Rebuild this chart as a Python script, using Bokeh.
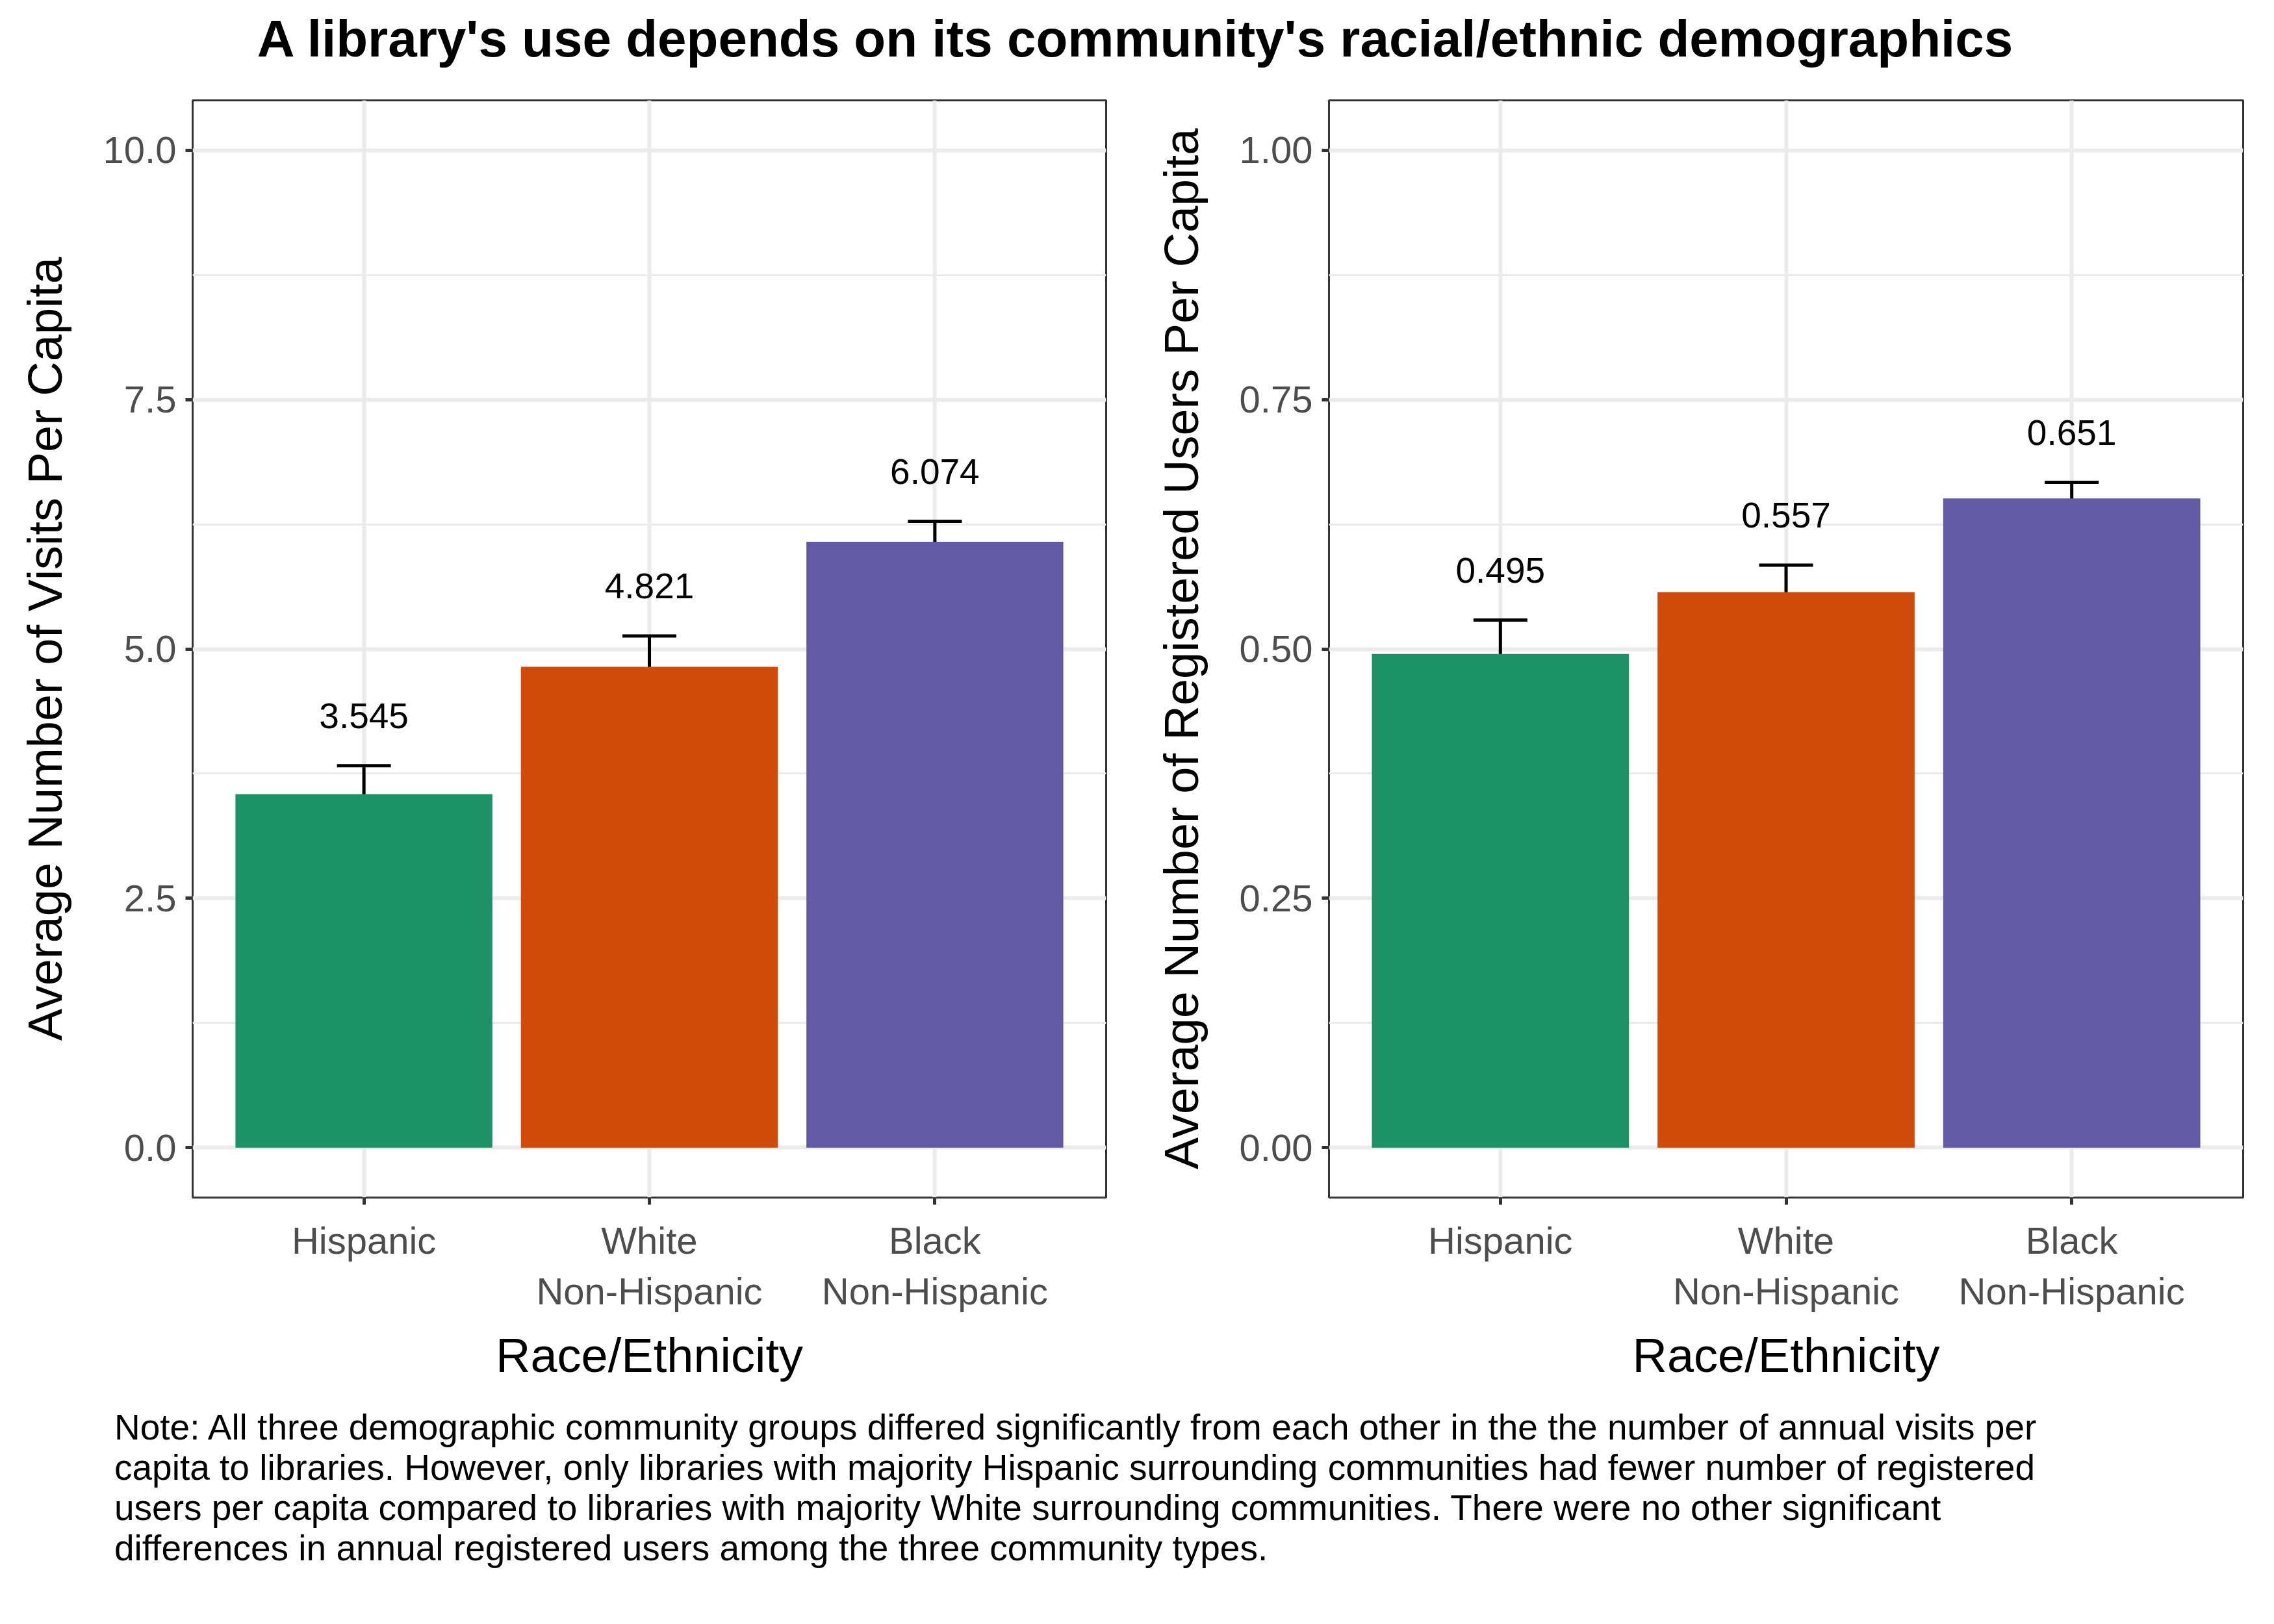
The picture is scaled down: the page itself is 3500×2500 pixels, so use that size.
from bokeh.plotting import figure
from bokeh.models import (ColumnDataSource, Range1d, FixedTicker, Whisker, TeeHead,
                          Div, NumeralTickFormatter)
from bokeh.layouts import column, row
from bokeh.core.properties import value
from bokeh.embed import file_html
from bokeh.resources import INLINE

groups = ["Hispanic", "White\nNon-Hispanic", "Black\nNon-Hispanic"]
colors = ["#1D9266", "#D14B0A", "#625AA5"]

visits = [3.545, 4.821, 6.074]
visits_lower = [3.25, 4.51, 5.87]
visits_upper = [3.83, 5.13, 6.28]

users = [0.495, 0.557, 0.651]
users_lower = [0.461, 0.531, 0.635]
users_upper = [0.529, 0.584, 0.667]

FONT = "Liberation Sans"
TITLE = "A library's use depends on its community's racial/ethnic demographics"
NOTE = ("Note: All three demographic community groups differed significantly from each other in the the number of annual visits "
        "per capita to libraries. However, only libraries with majority Hispanic surrounding communities had fewer number of "
        "registered users per capita compared to libraries with majority White surrounding communities. There were no other "
        "significant differences in annual registered users among the three community types.")


def panel(vals, lo, hi, ymax, ticks, fmt, ylabel, border_left, border_right, frame_w):
    x = list(range(1, len(groups) + 1))
    pad = ymax * 0.05
    p = figure(frame_width=frame_w, frame_height=1689, output_backend="svg",
               toolbar_location=None, x_range=Range1d(0.4, 3.6),
               y_range=Range1d(-pad, ymax + pad),
               min_border_left=border_left, min_border_right=border_right,
               min_border_top=10, min_border_bottom=280)
    p.outline_line_color = "#333333"
    p.outline_line_width = 3
    p.background_fill_color = "white"

    src = ColumnDataSource(dict(x=x, top=vals, lo=lo, hi=hi, color=colors,
                                label=[f"{v:.3f}" for v in vals],
                                ly=[h + pad for h in hi]))
    p.vbar(x="x", top="top", width=0.9, bottom=0, fill_color="color",
           line_color=None, source=src)
    p.add_layout(Whisker(source=src, base="x", lower="lo", upper="hi",
                         line_width=5, line_color="black",
                         upper_head=TeeHead(size=83, line_width=5, line_color="black"),
                         lower_head=TeeHead(size=83, line_width=5, line_color="black")))
    p.text(x="x", y="ly", text="label", source=src, text_align="center",
           text_baseline="middle", text_font=value(FONT), text_font_size="55px",
           text_color="black")

    p.xaxis.ticker = FixedTicker(ticks=x)
    p.xaxis.major_label_overrides = {i: g for i, g in zip(x, groups)}
    p.yaxis.ticker = FixedTicker(ticks=ticks,
                                 minor_ticks=[(a + b) / 2 for a, b in zip(ticks[:-1], ticks[1:])])
    p.yaxis.formatter = NumeralTickFormatter(format=fmt)
    p.xaxis.axis_label = "Race/Ethnicity"
    p.yaxis.axis_label = ylabel
    for ax in (p.xaxis, p.yaxis):
        ax.axis_line_color = None
        ax.major_tick_line_color = "#333333"
        ax.major_tick_line_width = 5
        ax.major_tick_out = 11
        ax.major_tick_in = 0
        ax.minor_tick_line_color = None
        ax.major_label_text_font = FONT
        ax.major_label_text_font_size = "58px"
        ax.major_label_text_color = "#4D4D4D"
        ax.axis_label_text_font = FONT
        ax.axis_label_text_font_size = "74px"
        ax.axis_label_text_font_style = "normal"
        ax.axis_label_text_color = "black"
    p.yaxis.major_label_standoff = 14
    p.yaxis.axis_label_standoff = 45
    p.xaxis.major_label_standoff = 22
    p.xaxis.axis_label_standoff = 22

    p.xgrid.grid_line_color = "#EBEBEB"
    p.xgrid.grid_line_width = 6
    p.ygrid.grid_line_color = "#EBEBEB"
    p.ygrid.grid_line_width = 6
    p.ygrid.minor_grid_line_color = "#EBEBEB"
    p.ygrid.minor_grid_line_width = 3
    return p


p1 = panel(visits, visits_lower, visits_upper, 10, [0, 2.5, 5, 7.5, 10], "0.0",
           "Average Number of Visits Per Capita", 296, 40, 1406)
p2 = panel(users, users_lower, users_upper, 1, [0, 0.25, 0.5, 0.75, 1.0], "0.00",
           "Average Number of Registered Users Per Capita", 303, 32, 1407)

title = Div(text=TITLE, width=3484, height=134,
            styles={"font-family": FONT, "font-weight": "bold", "font-size": "80px",
                    "text-align": "center", "width": "3484px", "line-height": "110px",
                    "color": "black"})
note = Div(text=NOTE, width=3484, height=340,
           styles={"font-family": FONT, "font-size": "55px", "line-height": "62px",
                   "padding-left": "171px", "padding-top": "31px", "width": "3260px",
                   "color": "black"})

layout = column(title, row(p1, p2), note)
open("out.html", "w").write(file_html(layout, INLINE))
